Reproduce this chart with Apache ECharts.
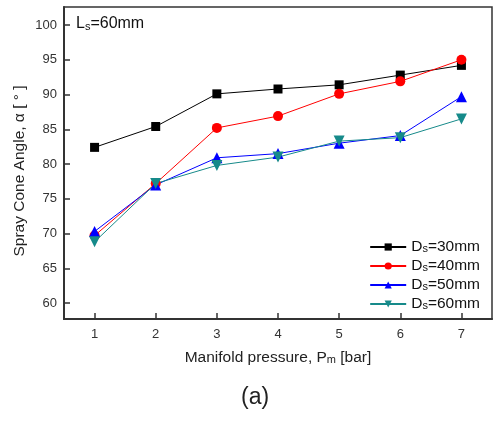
<!DOCTYPE html>
<html>
<head>
<meta charset="utf-8">
<script src="https://cdn.jsdelivr.net/npm/echarts@6/dist/echarts.min.js"></script>
<style>
  html, body { margin: 0; padding: 0; background: #fff; }
  #chart { width: 494px; height: 421px; }
</style>
</head>
<body>
<div id="chart"></div>
<script>
var pressure = [1, 2, 3, 4, 5, 6, 7];
var ds30 = [82.4, 85.4, 90.1, 90.8, 91.4, 92.8, 94.2];
var ds40 = [69.7, 77.2, 85.2, 86.9, 90.1, 91.9, 95.0];
var ds50 = [70.3, 77.0, 80.9, 81.5, 83.0, 84.1, 89.7];
var ds60 = [68.8, 77.2, 79.8, 81.0, 83.3, 83.8, 86.5];
var yTicks = [60, 65, 70, 75, 80, 85, 90, 95, 100];
var seriesNames = ['Ds=30mm', 'Ds=40mm', 'Ds=50mm', 'Ds=60mm'];

var font = 'Arial, "Liberation Sans", sans-serif';
var myChart = echarts.init(document.getElementById('chart'));

function pairs(vals) {
  return pressure.map(function (p, i) { return [p, vals[i]]; });
}

function lineSeries(name, vals, color, symbol, size, rotate) {
  return {
    name: name,
    type: 'line',
    data: pairs(vals),
    symbol: symbol,
    symbolSize: size,
    symbolRotate: rotate || 0,
    lineStyle: { color: color, width: 1 },
    itemStyle: { color: color },
    z: 3
  };
}

var option = {
  animation: false,
  grid: {
    left: 64, top: 7, right: 2, bottom: 102,
    outerBoundsMode: 'none',
    containLabel: false,
    show: true, borderColor: '#333', borderWidth: 1.5
  },
  xAxis: {
    type: 'value',
    min: 0.5,
    max: 7.5,
    name: '{a|Manifold pressure, P}{b|m}{a| [bar]}',
    nameLocation: 'middle',
    nameGap: 31,
    nameTextStyle: {
      rich: {
        a: { fontFamily: font, fontSize: 15.5, color: '#222' },
        b: { fontFamily: font, fontSize: 11, color: '#222', padding: [4, 0, 0, 0] }
      }
    },
    axisLine: { show: true, lineStyle: { color: '#333', width: 2 } },
    axisTick: { show: true, inside: true, length: 6, lineStyle: { color: '#333', width: 1.5 }, customValues: pressure },
    axisLabel: { fontFamily: font, fontSize: 13, color: '#333', margin: 9, customValues: pressure },
    splitLine: { show: false }
  },
  yAxis: {
    type: 'value',
    min: 57.7,
    max: 102.6,
    axisLine: { show: true, lineStyle: { color: '#333', width: 2 } },
    axisTick: { show: true, inside: true, length: 6, lineStyle: { color: '#333', width: 1.5 }, customValues: yTicks },
    axisLabel: { fontFamily: font, fontSize: 13, color: '#333', margin: 7, customValues: yTicks },
    splitLine: { show: false }
  },
  legend: {
    data: seriesNames,
    orient: 'vertical',
    right: 9,
    top: 234,
    itemWidth: 36,
    itemHeight: 9,
    itemGap: 3,
    formatter: function (name) {
      return '{a|D}{b|s}{a|' + name.slice(2) + '}';
    },
    textStyle: {
      rich: {
        a: { fontFamily: font, fontSize: 15.5, color: '#111' },
        b: { fontFamily: font, fontSize: 11, color: '#111', padding: [4, 0, 0, 0] }
      }
    }
  },
  graphic: [
    {
      type: 'text', x: 20, y: 171, rotation: Math.PI / 2,
      style: {
        text: 'Spray Cone Angle, α [ ° ]',
        fontFamily: font, fontSize: 15.5, fill: '#222',
        align: 'center', verticalAlign: 'middle'
      }
    },
    {
      type: 'text', left: 76, top: 16,
      style: {
        text: '{a|L}{b|s}{a|=60mm}',
        rich: {
          a: { fontFamily: font, fontSize: 16, fill: '#111' },
          b: { fontFamily: font, fontSize: 11, fill: '#111', padding: [5, 0, 0, 0] }
        }
      }
    },
    {
      type: 'text', left: 241, top: 386,
      style: { text: '(a)', fontFamily: font, fontSize: 23, fill: '#222' }
    }
  ],
  series: [
    lineSeries(seriesNames[0], ds30, '#000000', 'rect', 9),
    lineSeries(seriesNames[1], ds40, '#ff0000', 'circle', 10),
    lineSeries(seriesNames[2], ds50, '#0000ff', 'triangle', 11),
    lineSeries(seriesNames[3], ds60, '#168a8a', 'triangle', 11, 180)
  ]
};

myChart.setOption(option);
window.addEventListener('resize', function () { myChart.resize(); });
</script>
</body>
</html>
